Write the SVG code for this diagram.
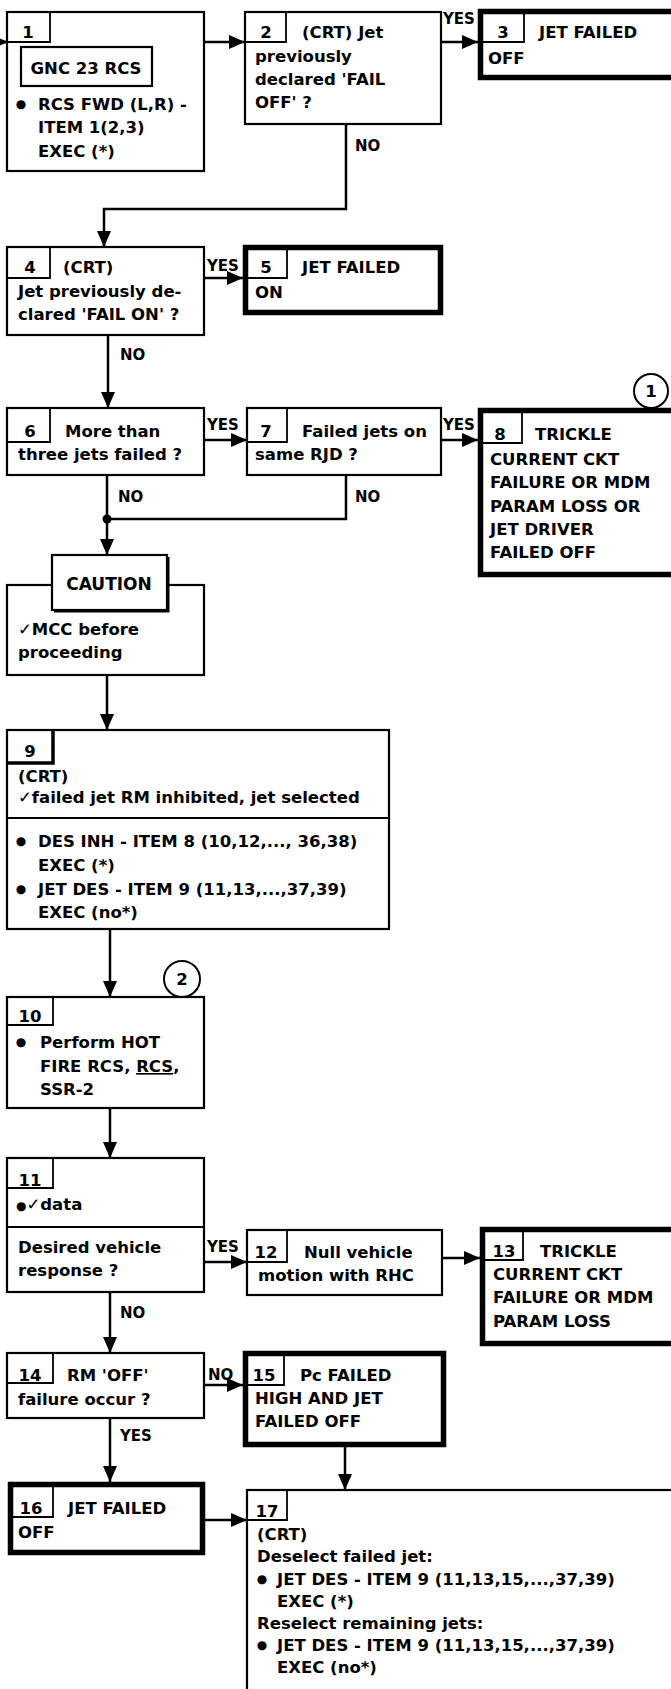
<svg xmlns="http://www.w3.org/2000/svg" width="671" height="1689" viewBox="0 0 671 1689">
<style>
.t{font-family:"DejaVu Sans",sans-serif;font-weight:bold;font-size:16.5px;fill:#000}
.l{font-family:"DejaVu Sans",sans-serif;font-weight:bold;font-size:15px;fill:#000}
.c{text-anchor:middle}
.b{font-family:"DejaVu Sans",sans-serif;font-size:12px;fill:#000;text-anchor:middle}
.box{fill:#fff;stroke:#000;stroke-width:2.2}
.thick{fill:#fff;stroke:#000;stroke-width:5.5}
.tab{fill:none;stroke:#000;stroke-width:1.8}
.con{fill:none;stroke:#000;stroke-width:2.5}
</style>
<defs>
<marker id="ah" viewBox="0 0 16 14" markerWidth="16" markerHeight="14" refX="16" refY="7" orient="auto" markerUnits="userSpaceOnUse">
<path d="M0,0 L16,7 L0,14 z" fill="#000"/>
</marker>
</defs>
<rect width="671" height="1689" fill="#fff"/>

<g id="connectors">
<path class="con" d="M0,42 H8" marker-end="url(#ah)"/>
<path class="con" d="M204,42 H245" marker-end="url(#ah)"/>
<path class="con" d="M441,42 H478" marker-end="url(#ah)"/>
<path class="con" d="M346,124 V209 H104 V247" marker-end="url(#ah)"/>
<path class="con" d="M204,278 H243" marker-end="url(#ah)"/>
<path class="con" d="M108,335 V408" marker-end="url(#ah)"/>
<path class="con" d="M204,440 H247" marker-end="url(#ah)"/>
<path class="con" d="M441,440 H478" marker-end="url(#ah)"/>
<path class="con" d="M107,475 V555" marker-end="url(#ah)"/>
<path class="con" d="M346,475 V519 H107"/>
<circle cx="107" cy="519" r="4.5" fill="#000"/>
<path class="con" d="M107,675 V730" marker-end="url(#ah)"/>
<path class="con" d="M110,929 V997" marker-end="url(#ah)"/>
<path class="con" d="M110,1108 V1158" marker-end="url(#ah)"/>
<path class="con" d="M204,1262 H247" marker-end="url(#ah)"/>
<path class="con" d="M442,1258 H480" marker-end="url(#ah)"/>
<path class="con" d="M110,1292 V1353" marker-end="url(#ah)"/>
<path class="con" d="M204,1385 H243" marker-end="url(#ah)"/>
<path class="con" d="M110,1418 V1482" marker-end="url(#ah)"/>
<path class="con" d="M345,1447 V1490" marker-end="url(#ah)"/>
<path class="con" d="M205,1520 H247" marker-end="url(#ah)"/>
<text class="l" x="443" y="24">YES</text>
<text class="l" x="355" y="151">NO</text>
<text class="l" x="207" y="271">YES</text>
<text class="l" x="120" y="360">NO</text>
<text class="l" x="207" y="430">YES</text>
<text class="l" x="443" y="430">YES</text>
<text class="l" x="118" y="502">NO</text>
<text class="l" x="355" y="502">NO</text>
<text class="l" x="207" y="1252">YES</text>
<text class="l" x="120" y="1318">NO</text>
<text class="l" x="208" y="1380">NO</text>
<text class="l" x="120" y="1441">YES</text>
</g>

<g id="node1">
<rect class="box" x="7" y="12" width="197" height="159"/>
<path class="tab" d="M7,42 H50 V12"/>
<text class="t c" x="28" y="38">1</text>
<rect class="box" x="21" y="47" width="131" height="39"/>
<text class="t c" x="86" y="74">GNC 23 RCS</text>
<text class="b" x="21" y="108">●</text>
<text class="t" x="38" y="110">RCS FWD (L,R) -</text>
<text class="t" x="38" y="133">ITEM 1(2,3)</text>
<text class="t" x="38" y="157">EXEC (*)</text>
</g>

<g id="node2">
<rect class="box" x="245" y="12" width="196" height="112"/>
<path class="tab" d="M245,42 H286 V12"/>
<text class="t c" x="266" y="38">2</text>
<text class="t" x="302" y="38">(CRT) Jet</text>
<text class="t" x="255" y="62">previously</text>
<text class="t" x="255" y="85">declared 'FAIL</text>
<text class="t" x="255" y="108">OFF' ?</text>
</g>

<g id="node3">
<rect class="thick" x="480.5" y="11.5" width="210" height="66"/>
<path class="tab" d="M481,42 H524 V12"/>
<text class="t c" x="503" y="38">3</text>
<text class="t" x="539" y="38">JET FAILED</text>
<text class="t" x="488" y="64">OFF</text>
</g>

<g id="node4">
<rect class="box" x="7" y="247" width="197" height="88"/>
<path class="tab" d="M7,278 H50 V247"/>
<text class="t c" x="30" y="273">4</text>
<text class="t" x="63" y="273">(CRT)</text>
<text class="t" x="18" y="297">Jet previously de-</text>
<text class="t" x="18" y="320">clared 'FAIL ON' ?</text>
</g>

<g id="node5">
<rect class="thick" x="245.5" y="247.5" width="195" height="65"/>
<path class="tab" d="M246,278 H287 V248"/>
<text class="t c" x="266" y="273">5</text>
<text class="t" x="302" y="273">JET FAILED</text>
<text class="t" x="255" y="298">ON</text>
</g>

<g id="node6">
<rect class="box" x="7" y="408" width="197" height="67"/>
<path class="tab" d="M7,442 H50 V408"/>
<text class="t c" x="30" y="437">6</text>
<text class="t" x="65" y="437">More than</text>
<text class="t" x="18" y="460">three jets failed ?</text>
</g>

<g id="node7">
<rect class="box" x="247" y="408" width="194" height="67"/>
<path class="tab" d="M247,442 H287 V408"/>
<text class="t c" x="266" y="437">7</text>
<text class="t" x="302" y="437">Failed jets on</text>
<text class="t" x="255" y="460">same RJD ?</text>
</g>

<g id="node8">
<rect class="thick" x="480.5" y="410.5" width="210" height="164"/>
<path class="tab" d="M481,443 H522 V411"/>
<text class="t c" x="500" y="440">8</text>
<text class="t" x="535" y="440">TRICKLE</text>
<text class="t" x="490" y="465">CURRENT CKT</text>
<text class="t" x="490" y="488">FAILURE OR MDM</text>
<text class="t" x="490" y="512">PARAM LOSS OR</text>
<text class="t" x="490" y="535">JET DRIVER</text>
<text class="t" x="490" y="558">FAILED OFF</text>
</g>

<g id="ref1">
<circle cx="651" cy="391" r="17" fill="#fff" stroke="#000" stroke-width="2"/>
<text class="t c" x="651" y="397">1</text>
</g>

<g id="caution">
<rect class="box" x="7" y="585" width="197" height="90"/>
<rect x="52" y="555" width="115" height="55" fill="#fff" stroke="#000" stroke-width="2.2"/>
<path d="M168,557 V611 H54" fill="none" stroke="#000" stroke-width="3"/>
<text class="t c" x="109" y="590" style="font-size:17px">CAUTION</text>
<text class="t" x="18" y="635">✓MCC before</text>
<text class="t" x="18" y="658">proceeding</text>
</g>

<g id="node9">
<rect class="box" x="7" y="730" width="382" height="199"/>
<path d="M7,763 H53 V730" fill="none" stroke="#000" stroke-width="3.5"/>
<text class="t c" x="30" y="757">9</text>
<text class="t" x="18" y="782">(CRT)</text>
<text class="t" x="18" y="803">✓failed jet RM inhibited, jet selected</text>
<path d="M7,818 H389" stroke="#000" stroke-width="2.2"/>
<text class="b" x="21" y="845">●</text>
<text class="t" x="38" y="847">DES INH - ITEM 8 (10,12,..., 36,38)</text>
<text class="t" x="38" y="871">EXEC (*)</text>
<text class="b" x="21" y="893">●</text>
<text class="t" x="38" y="895">JET DES - ITEM 9 (11,13,...,37,39)</text>
<text class="t" x="38" y="918">EXEC (no*)</text>
</g>

<g id="ref2">
<circle cx="182" cy="979" r="18" fill="#fff" stroke="#000" stroke-width="2"/>
<text class="t c" x="182" y="985">2</text>
</g>

<g id="node10">
<rect class="box" x="7" y="997" width="197" height="111"/>
<path class="tab" d="M7,1025 H53 V997"/>
<text class="t c" x="30" y="1022">10</text>
<text class="b" x="21" y="1046">●</text>
<text class="t" x="40" y="1048">Perform HOT</text>
<text class="t" x="40" y="1072">FIRE RCS, <tspan text-decoration="underline">RCS</tspan>,</text>
<text class="t" x="40" y="1095">SSR-2</text>
</g>

<g id="node11">
<rect class="box" x="7" y="1158" width="197" height="134"/>
<path class="tab" d="M7,1188 H53 V1158"/>
<text class="t c" x="30" y="1186">11</text>
<text class="t" x="16" y="1210"><tspan style="font-size:12px;font-weight:normal">●</tspan>✓data</text>
<path d="M7,1227 H204" stroke="#000" stroke-width="2.2"/>
<text class="t" x="18" y="1253">Desired vehicle</text>
<text class="t" x="18" y="1276">response ?</text>
</g>

<g id="node12">
<rect class="box" x="247" y="1230" width="195" height="65"/>
<path class="tab" d="M247,1262 H287 V1230"/>
<text class="t c" x="266" y="1258">12</text>
<text class="t" x="304" y="1258">Null vehicle</text>
<text class="t" x="258" y="1281">motion with RHC</text>
</g>

<g id="node13">
<rect class="thick" x="482.5" y="1229.5" width="210" height="114"/>
<path class="tab" d="M483,1260 H523 V1230"/>
<text class="t c" x="504" y="1257">13</text>
<text class="t" x="540" y="1257">TRICKLE</text>
<text class="t" x="493" y="1280">CURRENT CKT</text>
<text class="t" x="493" y="1303">FAILURE OR MDM</text>
<text class="t" x="493" y="1327">PARAM LOSS</text>
</g>

<g id="node14">
<rect class="box" x="7" y="1353" width="197" height="65"/>
<path class="tab" d="M7,1383 H53 V1353"/>
<text class="t c" x="30" y="1381">14</text>
<text class="t" x="67" y="1381">RM 'OFF'</text>
<text class="t" x="18" y="1405">failure occur ?</text>
</g>

<g id="node15">
<rect class="thick" x="245.5" y="1353.5" width="198" height="91"/>
<path class="tab" d="M246,1385 H284 V1354"/>
<text class="t c" x="264" y="1381">15</text>
<text class="t" x="300" y="1381">Pc FAILED</text>
<text class="t" x="255" y="1404">HIGH AND JET</text>
<text class="t" x="255" y="1427">FAILED OFF</text>
</g>

<g id="node16">
<rect class="thick" x="10.5" y="1484.5" width="192" height="68"/>
<path class="tab" d="M11,1517 H53 V1485"/>
<text class="t c" x="31" y="1514">16</text>
<text class="t" x="68" y="1514">JET FAILED</text>
<text class="t" x="18" y="1538">OFF</text>
</g>

<g id="node17">
<rect class="box" x="247" y="1490" width="460" height="220"/>
<path class="tab" d="M247,1520 H287 V1490"/>
<text class="t c" x="267" y="1517">17</text>
<text class="t" x="257" y="1540">(CRT)</text>
<text class="t" x="257" y="1562">Deselect failed jet:</text>
<text class="b" x="262" y="1583">●</text>
<text class="t" x="277" y="1585">JET DES - ITEM 9 (11,13,15,...,37,39)</text>
<text class="t" x="277" y="1607">EXEC (*)</text>
<text class="t" x="257" y="1629">Reselect remaining jets:</text>
<text class="b" x="262" y="1649">●</text>
<text class="t" x="277" y="1651">JET DES - ITEM 9 (11,13,15,...,37,39)</text>
<text class="t" x="277" y="1673">EXEC (no*)</text>
</g>
</svg>
